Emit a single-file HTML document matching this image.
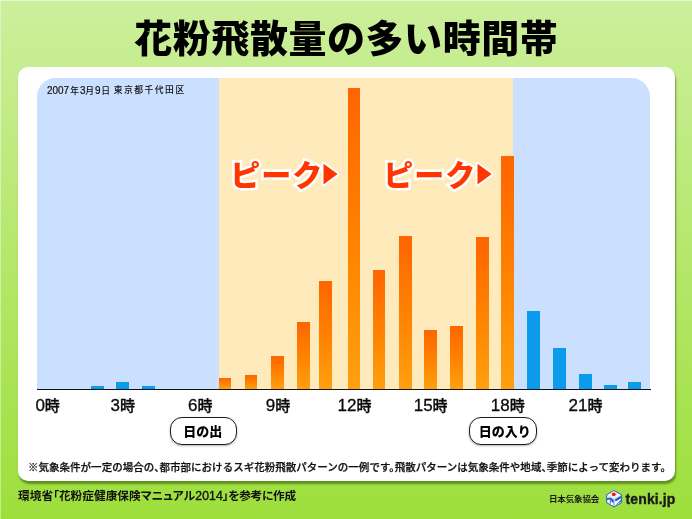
<!DOCTYPE html>
<html lang="ja">
<head>
<meta charset="utf-8">
<title>花粉飛散量の多い時間帯</title>
<style>
html,body{margin:0;padding:0;}
body{width:692px;height:519px;overflow:hidden;position:relative;
  font-family:"Liberation Sans","Noto Sans CJK JP",sans-serif;color:#000;
  background:linear-gradient(to bottom,#ccef9c 0%,#9ddf3b 100%);}
.abs{position:absolute;}
#edge{left:0;top:0;width:692px;height:519px;box-sizing:border-box;border-left:1px solid rgba(255,255,255,.4);border-top:1px solid rgba(255,255,255,.5);}
#title{left:0.3px;top:8.2px;width:692px;text-align:center;font-family:"Noto Sans CJK JP",sans-serif;font-weight:900;font-size:38px;line-height:56px;letter-spacing:0.55px;white-space:nowrap;}
#card{left:18px;top:67px;width:657px;height:414px;background:#fff;border-radius:10px;box-shadow:1px 3px 2px rgba(35,75,0,.52);}
#plot{left:37.3px;top:78.2px;width:612.7px;height:311px;background:#cbe0ff;border-radius:18.5px 18.5px 0 0;overflow:hidden;}
#day{left:181.7px;top:0;width:294.5px;height:311px;background:#ffeabb;}
#axis{left:37px;top:388.6px;width:614px;height:1.8px;background:#111;}
.bar{position:absolute;width:12.8px;}
.o{background:linear-gradient(to bottom,#ff6500 0%,#ff8400 55%,#ffa010 100%);}
.b{background:#0b9bec;width:13px;}
.lab{top:392.7px;font-size:17px;line-height:24px;white-space:nowrap;color:#0a0a0a;-webkit-text-stroke:0.3px #0a0a0a;}
.lab b{font-weight:500;font-size:15px;font-family:"Noto Sans CJK JP",sans-serif;}
.peak{top:150.6px;font-family:"Noto Sans CJK JP",sans-serif;font-weight:900;font-size:30px;line-height:44px;color:#ff3600;white-space:nowrap;letter-spacing:1px;
  -webkit-text-stroke:5px #fff;paint-order:stroke fill;stroke-linejoin:round;}
.tri{position:absolute;overflow:visible;}
.pill{top:417px;height:27.8px;box-sizing:border-box;border:1.8px solid #1c1c1c;border-radius:12px;background:#fff;font-weight:900;font-size:13px;line-height:26.6px;text-align:center;box-shadow:0 1px 2px rgba(0,0,0,.3);white-space:nowrap;font-family:"Noto Sans CJK JP",sans-serif;}
#date{left:47.3px;top:82.5px;font-size:8.8px;line-height:14px;color:#111;font-weight:500;white-space:nowrap;font-family:"Liberation Sans","Noto Sans CJK JP",sans-serif;}
#date i{font-style:normal;display:inline-block;font-size:10.8px;font-weight:400;transform:scaleX(.92);transform-origin:0 50%;vertical-align:-0.3px;-webkit-text-stroke:0.2px #111;}
#date u{text-decoration:none;letter-spacing:1.5px;margin-left:1.2px;}
#note{left:28px;top:459.4px;font-size:10.5px;line-height:16px;white-space:nowrap;color:#111;font-weight:500;-webkit-text-stroke:0.25px #111;font-feature-settings:"halt";letter-spacing:0.02px;}
#src{left:18px;top:487px;font-size:11.7px;line-height:18px;white-space:nowrap;color:#111;font-weight:700;font-feature-settings:"palt";}
#src i{font-style:normal;font-weight:400;font-size:12.2px;-webkit-text-stroke:0.35px #111;letter-spacing:0.1px;margin-left:0.3px;}
#src u{text-decoration:none;letter-spacing:-0.3px;}
#jwa{left:549px;top:492px;font-size:8.5px;line-height:14px;white-space:nowrap;font-weight:700;color:#1a1a1a;letter-spacing:-0.15px;}
#tenki{left:625.6px;top:487.5px;font-size:14px;line-height:22px;font-weight:700;font-family:"Liberation Sans",sans-serif;color:#1a1a1a;white-space:nowrap;-webkit-text-stroke:0.35px #1a1a1a;letter-spacing:0.1px;}
#logo{left:604px;top:488px;}
</style>
</head>
<body>
<div id="edge" class="abs"></div>
<div id="title" class="abs">花粉飛散量の多い時間帯</div>
<div id="card" class="abs"></div>
<div id="plot" class="abs"><div id="day" class="abs"></div></div>
<div id="date" class="abs"><i style="margin-right:-1.2px">2007</i>年<i style="margin:0 -0.4px 0 0.6px">3</i>月<i style="margin:0 0.6px 0 0.6px">9</i>日 <u>東京都千代田区</u></div>

<div id="bars">
<div class="bar b" style="left:91px;top:385.5px;height:3.5px"></div>
<div class="bar b" style="left:116px;top:381.5px;height:7.5px"></div>
<div class="bar b" style="left:141.5px;top:385.5px;height:3.5px"></div>
<div class="bar o" style="left:218.5px;top:377.5px;height:11.5px"></div>
<div class="bar o" style="left:244.7px;top:374.5px;height:14.5px"></div>
<div class="bar o" style="left:271.2px;top:355.5px;height:33.5px"></div>
<div class="bar o" style="left:297px;top:321.5px;height:67.5px"></div>
<div class="bar o" style="left:318.9px;top:281px;height:108px"></div>
<div class="bar o" style="left:347.5px;top:88px;height:301px"></div>
<div class="bar o" style="left:372.5px;top:269.5px;height:119.5px"></div>
<div class="bar o" style="left:399px;top:236px;height:153px"></div>
<div class="bar o" style="left:424px;top:330px;height:59px"></div>
<div class="bar o" style="left:450px;top:326px;height:63px"></div>
<div class="bar o" style="left:476px;top:237px;height:152px"></div>
<div class="bar o" style="left:501px;top:155.5px;height:233.5px"></div>
<div class="bar b" style="left:527px;top:311px;height:78px"></div>
<div class="bar b" style="left:552.5px;top:348px;height:41px"></div>
<div class="bar b" style="left:578.5px;top:374px;height:15px"></div>
<div class="bar b" style="left:603.5px;top:385px;height:4px"></div>
<div class="bar b" style="left:628px;top:381.5px;height:7.5px"></div>
</div>
<div id="axis" class="abs"></div>

<div class="peak abs" style="left:230.2px">ピーク</div>
<svg class="tri" style="left:320px;top:159.8px" width="22" height="28" viewBox="0 0 22 28"><polygon points="3.5,3.8 17.6,14.1 3.5,24.5" fill="#ff3600" stroke="#fff" stroke-width="4" stroke-linejoin="round" paint-order="stroke fill"/></svg>
<div class="peak abs" style="left:383.2px">ピーク</div>
<svg class="tri" style="left:474px;top:159.8px" width="22" height="28" viewBox="0 0 22 28"><polygon points="3.5,3.8 17.6,14.1 3.5,24.5" fill="#ff3600" stroke="#fff" stroke-width="4" stroke-linejoin="round" paint-order="stroke fill"/></svg>

<div class="lab abs" style="left:35.4px">0<b>時</b></div>
<div class="lab abs" style="left:110.5px">3<b>時</b></div>
<div class="lab abs" style="left:188px">6<b>時</b></div>
<div class="lab abs" style="left:265.8px">9<b>時</b></div>
<div class="lab abs" style="left:337.5px">12<b>時</b></div>
<div class="lab abs" style="left:413.7px">15<b>時</b></div>
<div class="lab abs" style="left:490.8px">18<b>時</b></div>
<div class="lab abs" style="left:568.5px">21<b>時</b></div>

<div class="pill abs" style="left:170.1px;width:67.3px;padding-right:2px">日の出</div>
<div class="pill abs" style="left:469.4px;width:67.3px;padding-left:3.5px">日の入り</div>

<div id="note" class="abs">※気象条件が一定の場合の、都市部におけるスギ花粉飛散パターンの一例です。飛散パターンは気象条件や地域、季節によって変わります。</div>
<div id="src" class="abs">環境省「花粉症健康保険マニュアル<i>2014</i><u>」を参考に作成</u></div>
<div id="jwa" class="abs">日本気象協会</div>
<svg id="logo" class="abs" width="20" height="21" viewBox="0 0 20 21">
<polygon points="9.9,2.5 17.6,6.8 17.6,14.7 9.9,18.9 2.7,14.7 2.7,6.8" fill="#fff" stroke="#1a62c6" stroke-width="1" stroke-linejoin="round"/>
<path d="M9.9,10.9 L9.9,18.6" fill="none" stroke="#1a62c6" stroke-width="0.9" opacity=".75"/>
<path d="M3.2,7.2 L9.9,10.9 L17.2,7" fill="none" stroke="#9db9e6" stroke-width="0.6"/>
<circle cx="9.8" cy="6.3" r="1.9" fill="#f21414"/>
<circle cx="9.8" cy="6.4" r="2.9" fill="none" stroke="#f88" stroke-width="0.9" stroke-dasharray="0.9 1.4" opacity=".8"/>
<path d="M3.8,10.9 C5.6,9.8 8.2,11.2 8.8,13.6" fill="none" stroke="#1a62c6" stroke-width="2.1" stroke-linecap="round"/>
<path d="M6.4,12 L6.2,15.3" fill="none" stroke="#1a62c6" stroke-width="1" stroke-linecap="round"/>
<path d="M11.2,12.5 L17,9" fill="none" stroke="#1a62c6" stroke-width="2.1"/>
<path d="M11,17.4 L17.2,13.6 L17.2,11.6 L13.6,15 Z" fill="#1a62c6"/>
</svg>
<div id="tenki" class="abs">tenki.jp</div>
</body>
</html>
